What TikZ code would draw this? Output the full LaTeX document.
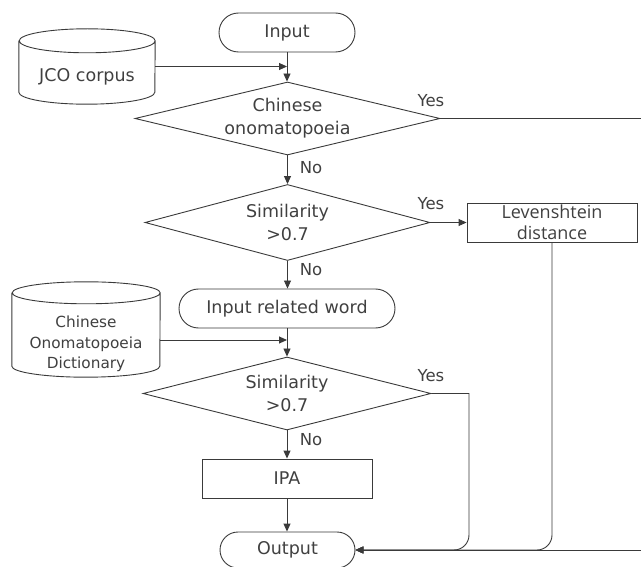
\documentclass[tikz,border=0pt]{standalone}
\usepackage{fontspec}
\setmainfont{DejaVu Sans}
\newfontfamily\levfont{Open Sans}
\usetikzlibrary{shapes.geometric,shapes.misc,arrows.meta}
\definecolor{ln}{HTML}{3A3A3A}
\definecolor{tx}{HTML}{404040}
\tikzset{
  line/.style={draw=ln, line width=0.9pt},
  arr/.style={line, -{Triangle[length=8pt,width=7pt]}},
  term/.style={rounded rectangle, line, inner sep=0pt, text=tx, font=\fontsize{17.5}{23}\selectfont},
  proc/.style={rectangle, line, inner sep=0pt, text=tx, align=center},
  dec/.style={diamond, line, aspect=4, inner sep=0pt, align=center, text=tx, font=\fontsize{17.5}{23}\selectfont},
  db/.style={rectangle, inner sep=0pt, text=tx},
  lab/.style={text=tx, inner sep=0pt, font=\fontsize{16.5}{20}\selectfont},
}
\newcommand\mycyl[3]{%
  \draw[line] ([yshift=-#3]#1.north west) -- ([yshift=#3]#1.south west)
    arc[start angle=180,end angle=360,x radius=#2,y radius=#3]
    -- ([yshift=-#3]#1.north east)
    arc[start angle=0,end angle=180,x radius=#2,y radius=#3]
    arc[start angle=180,end angle=360,x radius=#2,y radius=#3];}
\begin{document}
\begin{tikzpicture}[x=1pt,y=-1pt]
\useasboundingbox (0,0) rectangle (641,567);
% nodes
\node[term, minimum width=136pt, minimum height=39pt] (in) at (287,32.5) {Input};
\node[db, minimum width=136pt, minimum height=75pt, font=\fontsize{17.5}{23}\selectfont] (jco) at (87,66.5) {\raisebox{-15pt}[0pt][0pt]{JCO corpus}};
\mycyl{jco}{68pt}{12pt}
\node[dec, minimum width=305pt, minimum height=73pt] (d1) at (287.5,118.5) {Chinese\\onomatopoeia};
\node[dec, minimum width=285pt, minimum height=76pt] (d2) at (287.5,222.5) {Similarity\\>0.7};
\node[proc, minimum width=170pt, minimum height=39pt, font=\levfont\fontsize{18}{21.5}\selectfont] (lev) at (552,222.5) {Levenshtein\\distance};
\node[term, minimum width=216pt, minimum height=39pt] (ir) at (287,308.5) {Input related word};
\node[db, minimum width=148pt, minimum height=95pt, font=\fontsize{15.3}{20.5}\selectfont] (dict) at (86,329.5) {\raisebox{1.5pt}[0pt][0pt]{\parbox[t]{140pt}{\centering Chinese\\Onomatopoeia\\Dictionary}}};
\mycyl{dict}{74pt}{11pt}
\node[dec, minimum width=288pt, minimum height=73pt] (d3) at (287,393.5) {Similarity\\>0.7};
\node[proc, minimum width=170pt, minimum height=39pt, font=\fontsize{17.5}{23}\selectfont] (ipa) at (287,478.5) {IPA};
\node[term, minimum width=135pt, minimum height=36pt] (out) at (287.5,550) {Output};
% labels
\node[lab] at (431,101) {Yes};
\node[lab] at (431,204) {Yes};
\node[lab] at (431,376) {Yes};
\node[lab] at (311,168) {No};
\node[lab] at (311,270) {No};
\node[lab] at (311,440) {No};
% connectors
\coordinate (rt) at (660,118.5);
\coordinate (dictR) at ([yshift=-10.5pt]dict.east);
\draw[arr] (in.south) -- (in.south |- d1.north);
\draw[arr] (jco.east) -- (jco.east -| in.south);
\draw[arr] (d1.south) -- (d2.north);
\draw[arr] (d2.east) -- (lev.west);
\draw[arr] (d2.south) -- (d2.south |- ir.north);
\draw[arr] (ir.south) -- (ir.south |- d3.north);
\draw[arr] (dictR) -- (dictR -| ir.south);
\draw[arr] (d3.south) -- (d3.south |- ipa.north);
\draw[arr] (ipa.south) -- (ipa.south |- out.north);
\draw[arr] (d1.east) -- (rt) -- (rt |- out.east) -- (out.east);
\draw[arr, rounded corners=15pt] (lev.south) -- (lev.south |- out.east) -- (out.east);
\draw[arr] (d3.east) -- (469,393.5) [rounded corners=15pt] -- (469,550) -- (out.east);
\end{tikzpicture}
\end{document}
